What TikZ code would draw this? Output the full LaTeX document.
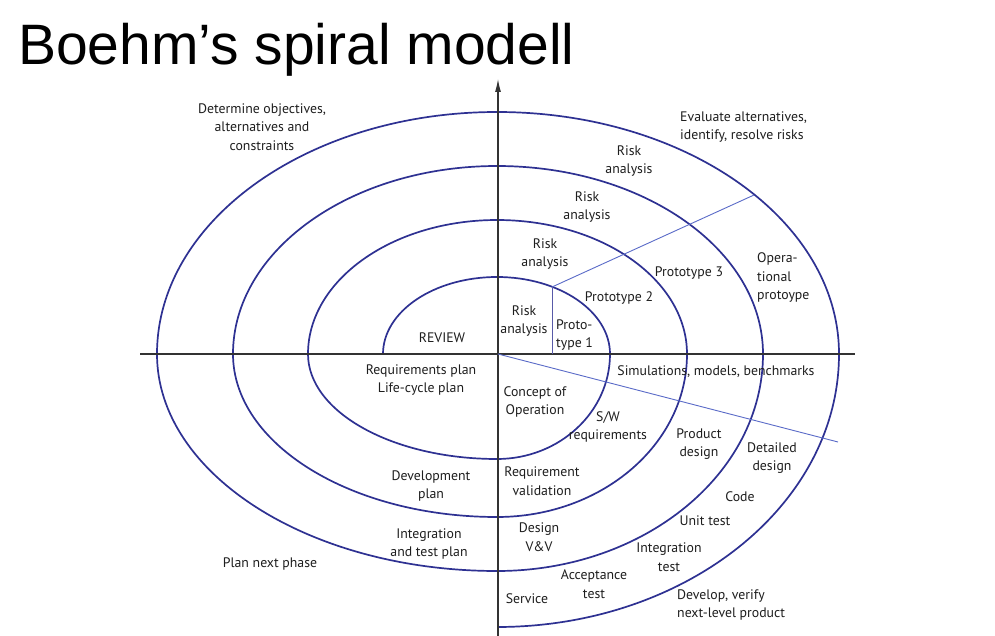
\documentclass[tikz,border=0pt]{standalone}
\usepackage{fontspec}
\setmainfont{Liberation Sans}
\newfontfamily\labfont{PT Sans}
\usetikzlibrary{arrows.meta}
\definecolor{spiralblue}{HTML}{2E3192}
\definecolor{thinblue}{HTML}{5A6BC8}
\definecolor{labtext}{HTML}{1E1E1E}
\begin{document}
\begin{tikzpicture}[x=1bp,y=-1bp,
  lbl/.style={font=\labfont\fontsize{13.8bp}{18.5bp}\selectfont, align=center, inner sep=0pt, text=labtext},
  lbll/.style={lbl, align=left, anchor=west},
  spiralline/.style={draw=spiralblue, line width=1.7bp},
  thinline/.style={draw=thinblue, line width=0.9bp},
  axisline/.style={draw=black!80, line width=1.1bp}]
\useasboundingbox (0,0) rectangle (995,636);
\fill[white] (0,0) rectangle (995,636);
% title
\node[anchor=base west, inner sep=0pt, font=\fontsize{57bp}{60bp}\selectfont] (title) at (18,65) {Boehm’s spiral modell};
% spiral
\draw[spiralline] (383,354)
  arc[start angle=180, end angle=270, x radius=114, y radius=77]
  arc[start angle=270, end angle=360, x radius=113, y radius=77]
  arc[start angle=0, end angle=90, x radius=113, y radius=105]
  arc[start angle=90, end angle=180, x radius=189, y radius=105]
  arc[start angle=180, end angle=270, x radius=189, y radius=134]
  arc[start angle=270, end angle=360, x radius=190, y radius=134]
  arc[start angle=0, end angle=90, x radius=190, y radius=163]
  arc[start angle=90, end angle=180, x radius=264, y radius=163]
  arc[start angle=180, end angle=270, x radius=264, y radius=188]
  arc[start angle=270, end angle=360, x radius=266, y radius=188]
  arc[start angle=0, end angle=90, x radius=266, y radius=217]
  arc[start angle=90, end angle=180, x radius=340, y radius=217]
  arc[start angle=180, end angle=270, x radius=340, y radius=242]
  arc[start angle=270, end angle=360, x radius=342, y radius=242]
  arc[start angle=0, end angle=90, x radius=342, y radius=273];
% axes
\coordinate (hl) at (140,354);
\coordinate (hr) at (855,354);
\coordinate (vb) at (498,636);
\coordinate (vt) at (498,79);
\coordinate (o) at (498,354);
\draw[axisline] (hl) -- (hr);
\draw[axisline, -{Latex[length=13bp,width=6bp]}] (vb) -- (vt);
% thin dividing lines
\coordinate (pb) at (552,354);
\coordinate (pt) at (552,287);
\coordinate (pe) at (754,195);
\coordinate (de) at (838,442);
\draw[draw=spiralblue!80, line width=0.9bp] (pb) -- (pt);
\draw[thinline] (pt) -- (pe);
\draw[thinline] (o) -- (de);
% labels
\node[lbl] (l1) at (262,127) {Determine objectives,\\alternatives and\\constraints};
\node[lbll] (l2) at (680,127) {Evaluate alternatives,\\identify, resolve risks};
\node[lbl] (l3) at (629,161) {Risk\\analysis};
\node[lbl] (l4) at (587,207) {Risk\\analysis};
\node[lbl] (l5) at (545,254) {Risk\\analysis};
\node[lbl] (l6) at (524,321) {Risk\\analysis};
\node[lbll] (l7) at (556,335) {Proto-\\type 1};
\node[lbl] (l8) at (619,298) {Prototype 2};
\node[lbl] (l9) at (689,273) {Prototype 3};
\node[lbll] (l10) at (757,278) {Opera-\\tional\\protoype};
\node[lbl] (l11) at (442,338) {REVIEW};
\node[lbl] (l12) at (421,380) {Requirements plan\\Life-cycle plan};
\node[lbl] (l13) at (431,486) {Development\\plan};
\node[lbl] (l14) at (429,544) {Integration\\and test plan};
\node[lbl] (l15) at (270,564) {Plan next phase};
\node[lbl] (l16) at (716,372) {Simulations, models, benchmarks};
\node[lbl] (l17) at (535,402) {Concept of\\Operation};
\node[lbl] (l18) at (608,427) {S/W\\requirements};
\node[lbl] (l19) at (699,444) {Product\\design};
\node[lbl] (l20) at (772,458) {Detailed\\design};
\node[lbl] (l21) at (542,481) {Requirement\\validation};
\node[lbl] (l22) at (740,497) {Code};
\node[lbl] (l23) at (705,521) {Unit test};
\node[lbl] (l24) at (539,537) {Design\\V\&V};
\node[lbl] (l25) at (669,557) {Integration\\test};
\node[lbl] (l26) at (594,584) {Acceptance\\test};
\node[lbl] (l27) at (527,599) {Service};
\node[lbll] (l28) at (677,605) {Develop, verify\\next-level product};
\end{tikzpicture}
\end{document}
